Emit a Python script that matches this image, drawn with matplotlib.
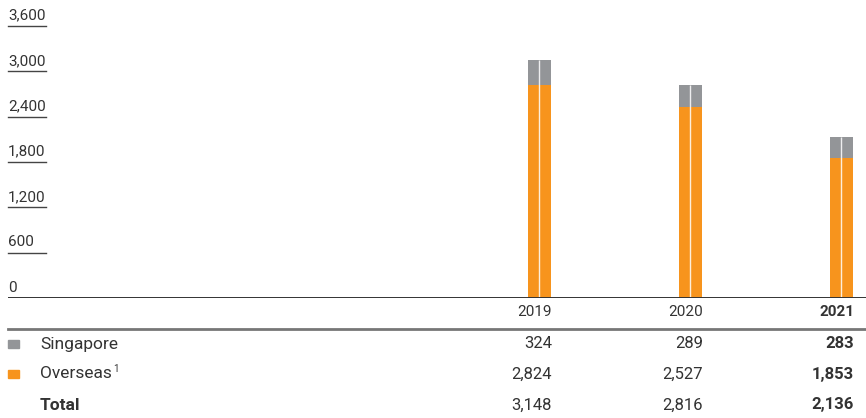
import matplotlib
matplotlib.use("Agg")
import matplotlib.pyplot as plt
from matplotlib.transforms import blended_transform_factory

plt.rcParams["font.family"] = ["Roboto", "DejaVu Sans"]

years = ["2019", "2020", "2021"]
singapore = [324, 289, 283]
overseas = [2824, 2527, 1853]
totals = [3148, 2816, 2136]
y_ticks = [0, 600, 1200, 1800, 2400, 3000, 3600]

ORANGE = "#F7941D"
GREY = "#939598"
TEXT = "#333333"

W, H = 866, 418
fig = plt.figure(figsize=(W / 100, H / 100), dpi=100)

# axes: x from 8px to 866px, y from 0 (298px) to 3600 (26px)
ax = fig.add_axes([8 / W, (H - 298) / H, (W - 8) / W, (298 - 26) / H])
ax.set_ylim(0, 3600)
# bar centres at 539, 690, 841 px, 151 px apart
step = 151
ax.set_xlim(-(539 - 8) / step, (866 - 539) / step)
ax.axis("off")

x = list(range(len(years)))
bw = 23 / step
ax.bar(x, overseas, width=bw, color=ORANGE, zorder=2)
ax.bar(x, singapore, width=bw, bottom=overseas, color=GREY, zorder=2)
ax.vlines(x, 0, totals, colors="white", linewidth=1.0, alpha=0.85, zorder=3)

# baseline
ax.axhline(0, color="#333333", linewidth=1.4, zorder=4)

# y labels with short underline
tr = blended_transform_factory(ax.transAxes, ax.transData)
ax_w = W - 8
for v in y_ticks:
    ax.text(0, v + 45, f"{v:,}", transform=tr, ha="left", va="bottom",
            fontsize=11, color=TEXT)
    if v > 0:
        ax.plot([0, 38 / ax_w], [v, v], transform=tr, color="#444444",
                linewidth=1.0, clip_on=False)

# table below
def fy(py):
    return 1 - py / H

right_px = [552, 703, 854]
for i, yr in enumerate(years):
    bold = i == len(years) - 1
    fig.text(right_px[i] / W, fy(312), yr, ha="right", va="center",
             fontsize=11, color=TEXT, fontweight="bold" if bold else "normal")

fig.add_artist(plt.Line2D([8 / W, 1], [fy(329), fy(329)], color="#777777",
                          linewidth=2.0))

rows = [("Singapore", singapore, GREY, 344),
        ("Overseas", overseas, ORANGE, 374),
        ("Total", totals, None, 405)]
renderer = fig.canvas.get_renderer()
for label, vals, col, py in rows:
    if col is not None:
        fig.patches.append(plt.Rectangle((8 / W, fy(py + 4)), 11 / W, 8 / H,
                                         transform=fig.transFigure,
                                         color=col))
    t = fig.text(40 / W, fy(py), label, ha="left", va="center", fontsize=12.5,
                 color=TEXT, fontweight="bold" if label == "Total" else "normal")
    if label == "Overseas":
        # footnote marker as a small raised "1"
        bb = t.get_window_extent(renderer)
        fig.text(bb.x1 / W + 1 / W, fy(py - 5), "1", ha="left", va="center",
                 fontsize=7, color=TEXT)
    for i, v in enumerate(vals):
        bold = i == len(vals) - 1
        fig.text(right_px[i] / W, fy(py), f"{v:,}", ha="right", va="center",
                 fontsize=12, color=TEXT,
                 fontweight="bold" if bold else "normal")

fig.savefig("out.png", dpi=100)
